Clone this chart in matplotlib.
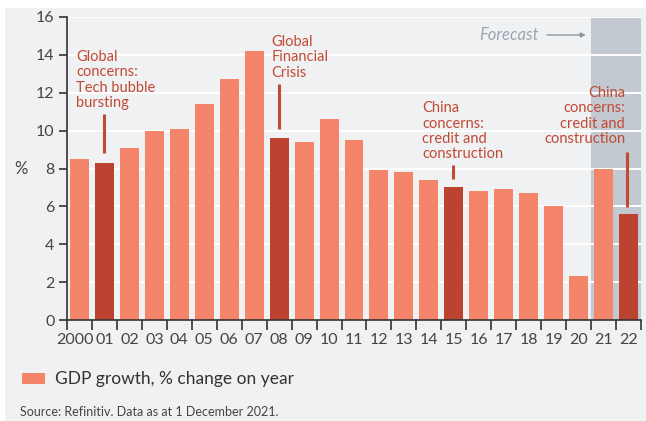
import matplotlib
matplotlib.use("Agg")
import matplotlib.pyplot as plt
import matplotlib.transforms as mtransforms
from matplotlib.patches import Rectangle

years = ["2000", "01", "02", "03", "04", "05", "06", "07", "08", "09", "10", "11",
         "12", "13", "14", "15", "16", "17", "18", "19", "20", "21", "22"]
gdp = [8.5, 8.3, 9.1, 10.0, 10.1, 11.4, 12.7, 14.2, 9.6, 9.4, 10.6, 9.5,
       7.9, 7.8, 7.4, 7.0, 6.8, 6.9, 6.7, 6.0, 2.3, 8.0, 5.6]
highlight = ["01", "08", "15", "22"]
forecast = ["21", "22"]

LIGHT = "#f4846a"
DARK = "#bb4330"
ANN = "#c24a35"
BG = "#f0f1f3"

plt.rcParams['font.family'] = ['Lato', 'DejaVu Sans']

fig = plt.figure(figsize=(6.46, 4.21), dpi=100, facecolor="white")
fig.patches.append(Rectangle((5/646, 0), 641/646, 413/421, transform=fig.transFigure,
                             facecolor=BG, edgecolor="none", zorder=-10))
ax = fig.add_axes([67/646, 101/421, 574/646, 303/421])
ax.set_facecolor(BG)

x = list(range(len(years)))
colors = [DARK if y in highlight else LIGHT for y in years]
ax.bar(x, gdp, width=0.76, color=colors, zorder=3)

fi = [years.index(f) for f in forecast]
ax.axvspan(min(fi) - 0.5, max(fi) + 0.5, ymin=0, ymax=1, color="#c2c9d0", zorder=0, lw=0)

ax.set_xlim(-0.5, len(years) - 0.5)
ax.set_ylim(0, 16)
ax.set_yticks(range(0, 17, 2))
for v in range(2, 17, 2):
    ax.axhline(v, color="white", lw=1.4, zorder=1)

ax.set_xticks([i - 0.5 for i in range(len(years) + 1)])
ax.set_xticklabels([])
ax.set_xticks(x, minor=True)
ax.set_xticklabels(years, minor=True)
ax.tick_params(axis="x", which="major", length=7, width=1.2, color="#333333", direction="out")
ax.tick_params(axis="x", which="minor", length=0, pad=9, labelsize=11.5, labelcolor="#444444")
ax.tick_params(axis="y", length=6, width=1.2, color="#333333", labelsize=11.5, labelcolor="#444444", pad=3)
first = ax.get_xticklabels(minor=True)[0]
first.set_transform(first.get_transform() + mtransforms.ScaledTranslation(-5/100, 0, fig.dpi_scale_trans))

for s in ["top", "right"]:
    ax.spines[s].set_visible(False)
for s in ["left", "bottom"]:
    ax.spines[s].set_color("#333333")
    ax.spines[s].set_linewidth(1.2)
    ax.spines[s].set_zorder(5)

ax.text((21 - 67) / 574, 8, "%", transform=ax.get_yaxis_transform(), fontsize=12, color="#444444",
        va="center", ha="center")

def ann(text, xt, yt, xl, y0, y1, ha="left"):
    ax.text(xt, yt, text, color=ANN, fontsize=10.5, ha=ha, va="top", linespacing=1.12, zorder=6)
    ax.plot([xl, xl], [y0, y1], color=ANN, lw=2.2, zorder=6, solid_capstyle="butt")

ann("Global\nconcerns:\nTech bubble\nbursting", -0.14, 14.25, 1.0, 10.88, 8.82)
ann("Global\nFinancial\nCrisis", 7.7, 15.05, 7.98, 12.46, 10.08)
ann("China\nconcerns:\ncredit and\nconstruction", 13.74, 11.55, 14.98, 8.18, 7.44)
ann("China\nconcerns:\ncredit and\nconstruction", 21.86, 12.35, 21.94, 8.87, 5.97, ha="right")

ax.text(18.4, 15.05, "Forecast", color="#9aa5b0", fontsize=12, style="italic", ha="right", va="center")
ax.annotate("", xy=(20.4, 15.05), xytext=(18.62, 15.05),
            arrowprops=dict(arrowstyle="-|>", color="#8a96a2", lw=1, mutation_scale=7))

fig.patches.append(Rectangle((22/646, (421-384)/421), 23/646, 11/421, transform=fig.transFigure,
                             facecolor=LIGHT, edgecolor="none"))
fig.text(55/646, (421-379)/421, "GDP growth, % change on year", fontsize=12.5, color="#333333",
         va="center", ha="left")
fig.text(20/646, (421-412)/421, "Source: Refinitiv. Data as at 1 December 2021.", fontsize=9,
         color="#444444", va="center", ha="left")

fig.savefig("out.png", dpi=100, facecolor="white")
